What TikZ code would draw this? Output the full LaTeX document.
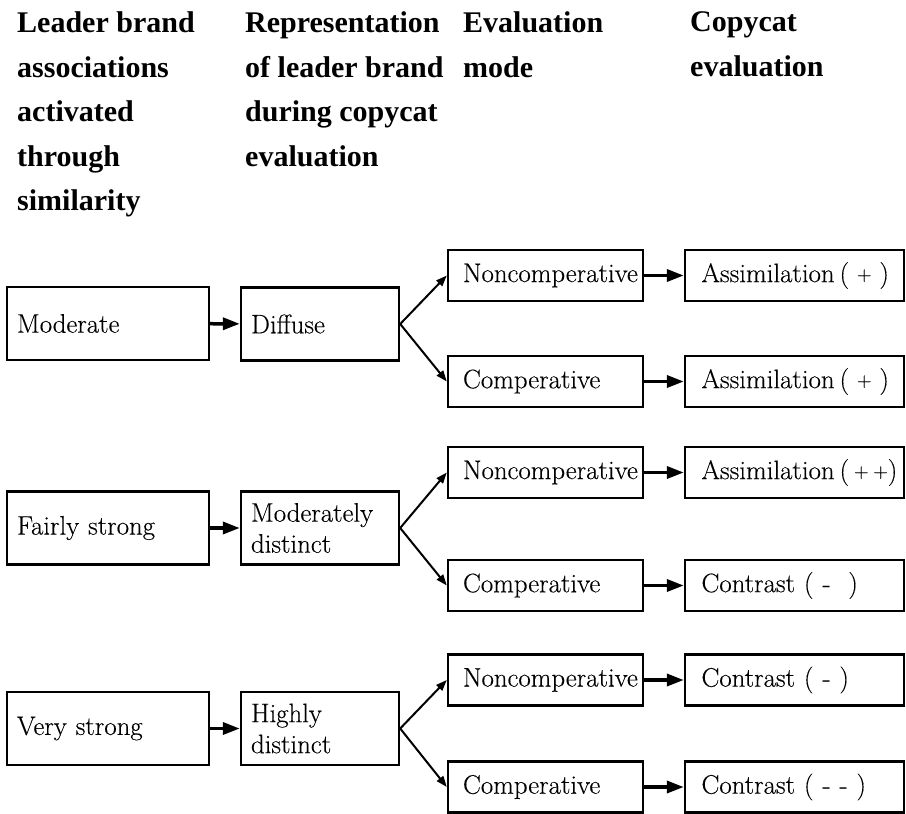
\documentclass[tikz,border=0pt]{standalone}
\usepackage{fontspec}
\usepackage{tikz}
\usetikzlibrary{arrows.meta,positioning}
\newfontfamily\headfont{Liberation Serif}
\newfontfamily\boxfont{Latin Modern Roman}[FakeBold=0.25]
\newcommand{\sgn}[1]{\raisebox{1.5pt}{\fontsize{20}{20}\selectfont#1}}

\begin{document}
\begin{tikzpicture}[x=1pt, y=-1pt,
  colhead/.style={anchor=north west, inner sep=0pt, align=left,
               font=\headfont\bfseries\fontsize{30}{44.5}\selectfont},
  flowbox/.style={draw, line width=2.4pt, align=left, inner ysep=0pt,
               font=\boxfont\fontsize{26.8}{31}\selectfont},
  levelbox/.style={flowbox, minimum width=202pt, minimum height=73pt,
               text width=182pt, inner xsep=10pt},
  repbox/.style={flowbox, minimum width=158pt, minimum height=73pt,
               text width=138pt, inner xsep=10pt},
  modebox/.style={flowbox, minimum width=195pt, minimum height=51pt,
               text width=165pt, inner xsep=15pt},
  outbox/.style={flowbox, minimum width=219pt, minimum height=51pt,
               text width=207pt, inner xsep=6pt,
               execute at begin node={\hspace*{10.5pt}}},
  link/.style={-{Triangle[length=17pt,width=12pt]}, line width=3.5pt},
  fork/.style={-{Triangle[length=11pt,width=8pt]}, line width=2pt}
]
\useasboundingbox (0,0) rectangle (906,814);

% column headings
\node[colhead] (h1) at (17,11.5) {Leader brand\\associations\\activated\\through\\similarity};
\node[colhead] (h2) at (245,11.5) {Representation\\of leader brand\\during copycat\\evaluation};
\node[colhead] (h3) at (463,11.5) {Evaluation\\mode};
\node[colhead] (h4) at (690,11.5) {Copycat\\evaluation};

% moderate
\node[levelbox] (lvl1) at (108,323.5) {Moderate};
\node[repbox] (rep1) at (320,324) {Diffuse};
\node[modebox] (nonc1) at (545.5,275.5) {Noncomperative};
\node[modebox] (comp1) at (545.5,381.5) {Comperative};
\node[outbox] (outn1) at (794.5,275.5) {Assimilation\hspace{5pt}(\hspace{8pt}\sgn{+}\hspace{8pt})};
\node[outbox] (outc1) at (794.5,381.5) {Assimilation\hspace{5pt}(\hspace{8pt}\sgn{+}\hspace{8pt})};

% fairly strong
\node[levelbox] (lvl2) at (108,528) {Fairly strong};
\node[repbox] (rep2) at (320,528) {Moderately\\distinct};
\node[modebox] (nonc2) at (545.5,472.5) {Noncomperative};
\node[modebox] (comp2) at (545.5,585.5) {Comperative};
\node[outbox] (outn2) at (794.5,472.5) {Assimilation\hspace{5pt}(\hspace{5pt}\sgn{+}\hspace{5pt}\sgn{+})};
\node[outbox] (outc2) at (794.5,585.5) {Contrast ( -~~)};

% very strong
\node[levelbox] (lvl3) at (108,728.5) {Very strong};
\node[repbox] (rep3) at (320,728.5) {Highly\\distinct};
\node[modebox] (nonc3) at (545.5,680) {Noncomperative};
\node[modebox] (comp3) at (545.5,787) {Comperative};
\node[outbox] (outn3) at (794.5,680) {Contrast ( - )};
\node[outbox] (outc3) at (794.5,787) {Contrast ( - - )};

\draw[link] (lvl1) -- (rep1);
\draw[link] (lvl2) -- (rep2);
\draw[link] (lvl3) -- (rep3);
\draw[fork] (rep1.east) -- (nonc1.west);
\draw[fork] (rep1.east) -- (comp1.west);
\draw[fork] (rep2.east) -- (nonc2.west);
\draw[fork] (rep2.east) -- (comp2.west);
\draw[fork] (rep3.east) -- (nonc3.west);
\draw[fork] (rep3.east) -- (comp3.west);
\draw[link] (nonc1) -- (outn1);
\draw[link] (comp1) -- (outc1);
\draw[link] (nonc2) -- (outn2);
\draw[link] (comp2) -- (outc2);
\draw[link] (nonc3) -- (outn3);
\draw[link] (comp3) -- (outc3);
\end{tikzpicture}
\end{document}
